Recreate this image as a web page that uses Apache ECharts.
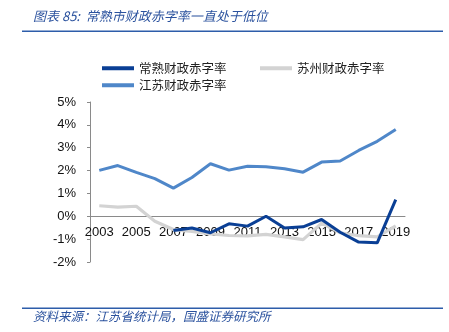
<!DOCTYPE html>
<html>
<head>
<meta charset="utf-8">
<script src="https://cdn.jsdelivr.net/npm/echarts@6/dist/echarts.min.js"></script>
<style>
html,body{margin:0;padding:0;background:#fff;}
#chart{width:449px;height:332px;}
</style>
</head>
<body>
<div id="chart"></div>
<script>
var categories = ['2003','2004','2005','2006','2007','2008','2009','2010','2011','2012','2013','2014','2015','2016','2017','2018','2019'];
var changshu = [null,null,null,null,-0.62,-0.51,-0.72,-0.33,-0.43,0.0,-0.51,-0.46,-0.14,-0.70,-1.13,-1.16,0.73];
var suzhou = [0.46,0.40,0.44,-0.22,-0.58,-0.66,-0.77,-0.84,-0.86,-0.79,-0.90,-1.02,-0.30,-0.72,-0.85,-0.90,-0.42];
var jiangsu = [2.01,2.22,1.92,1.65,1.23,1.70,2.30,2.02,2.19,2.17,2.08,1.93,2.37,2.42,2.88,3.28,3.80];
var seriesNames = ['常熟财政赤字率','苏州财政赤字率','江苏财政赤字率'];
var titleText = '图表 85:  常熟市财政赤字率一直处于低位';
var sourceText = '资料来源：江苏省统计局，国盛证券研究所';

var chart = echarts.init(document.getElementById('chart'), null, {renderer:'canvas'});
var cjk = '"Noto Sans CJK SC", sans-serif';
var legendStyle = {fontFamily: cjk, fontSize: 12.5, color: '#222'};
function mkLegend(name, left, top){
  return {data:[name], left:left, top:top, itemWidth:32, itemHeight:4, itemGap:0,
    icon:'rect', padding:0, textStyle:legendStyle, selectedMode:false};
}
var gridTop = 102, gridBottom = 70, chartH = 332;
var yMin = -2, yMax = 5;
var plotH = chartH - gridTop - gridBottom;
var zeroOffset = -plotH * (0 - yMin) / (yMax - yMin);
chart.setOption({
  animation:false,
  color:['#0A3F95','#D3D3D3','#4F87C9'],
  legend:[
    mkLegend(seriesNames[0], 102, 62),
    mkLegend(seriesNames[1], 260, 62),
    mkLegend(seriesNames[2], 102, 79)
  ],
  grid:{left:90, right:44, top:gridTop, bottom:gridBottom, containLabel:false},
  xAxis:{
    type:'category', data:categories, boundaryGap:true, position:'bottom', offset:zeroOffset,
    axisLine:{onZero:false, lineStyle:{color:'#8a8a8a', width:1}},
    axisTick:{inside:true, length:4, interval:0, lineStyle:{color:'#8a8a8a'}},
    axisLabel:{interval:1, margin:10, fontFamily:'"Liberation Sans", Arial, sans-serif', fontSize:13, color:'#111'},
    splitLine:{show:false}
  },
  yAxis:{
    type:'value', min:yMin, max:yMax, interval:1,
    axisLine:{show:true, lineStyle:{color:'#8a8a8a', width:1}},
    axisTick:{show:true, length:3, lineStyle:{color:'#8a8a8a'}},
    axisLabel:{formatter:'{value}%', margin:14, fontFamily:'"Liberation Sans", Arial, sans-serif', fontSize:13, color:'#111'},
    splitLine:{show:false}
  },
  series:[
    {name:seriesNames[0], type:'line', data:changshu, showSymbol:false, symbol:'none', z:4,
      lineStyle:{width:3, color:'#0A3F95'}, connectNulls:false},
    {name:seriesNames[1], type:'line', data:suzhou, showSymbol:false, symbol:'none', z:3,
      lineStyle:{width:3.2, color:'#D3D3D3'}},
    {name:seriesNames[2], type:'line', data:jiangsu, showSymbol:false, symbol:'none', z:3,
      lineStyle:{width:3, color:'#4F87C9'}}
  ],
  graphic:[
    {type:'text', left:33, top:10, style:{text:titleText, fill:'#2B529E',
      font:'italic 13px ' + cjk}},
    {type:'rect', shape:{x:22, y:30.5, width:421, height:1.6}, style:{fill:'#2D5DAA'}},
    {type:'rect', shape:{x:22, y:307.5, width:421, height:1.6}, style:{fill:'#2D5DAA'}},
    {type:'text', left:33, top:310, style:{text:sourceText, fill:'#2B529E',
      font:'italic 12.5px ' + cjk}}
  ]
});
</script>
</body>
</html>
